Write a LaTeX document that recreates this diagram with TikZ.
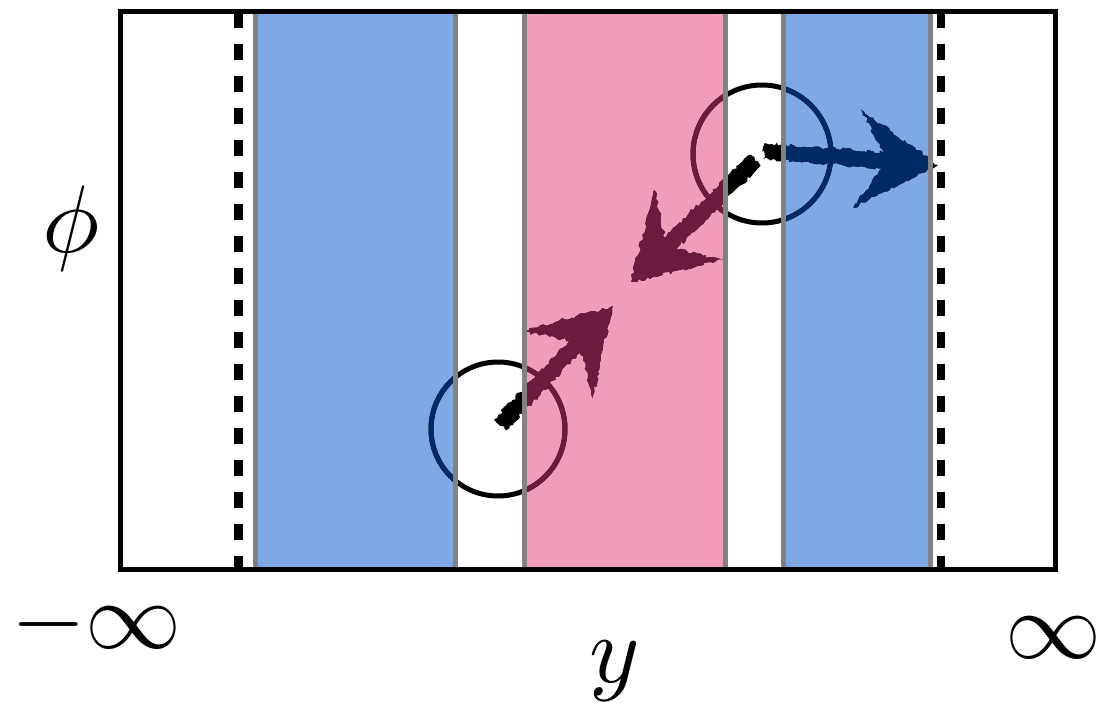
\documentclass[tikz,border=0pt]{standalone}
\usetikzlibrary{calc,decorations.pathmorphing}
\definecolor{stripblue}{RGB}{127,169,230}
\definecolor{strippink}{RGB}{242,156,188}
\definecolor{edgegray}{RGB}{130,130,130}
\definecolor{inknavy}{RGB}{0,42,102}
\definecolor{inkmaroon}{RGB}{108,27,62}
\newcommand\defbrusharrow[3]{% name, tail, tip
  \coordinate (#1-t) at (#2);
  \coordinate (#1-p) at (#3);
  \coordinate (#1-N) at ($(#3)!55pt!(#2)$);
  \coordinate (#1-H) at ($(#3)!81pt!(#2)$);
  \coordinate (#1-a) at ($(#2)!8pt!90:(#3)$);
  \coordinate (#1-b) at ($(#1-N)!8pt!90:(#3)$);
  \coordinate (#1-c) at ($(#1-H)!49pt!90:(#3)$);
  \coordinate (#1-d) at ($(#1-H)!49pt!-90:(#3)$);
  \coordinate (#1-e) at ($(#1-N)!8pt!-90:(#3)$);
  \coordinate (#1-f) at ($(#2)!8pt!-90:(#3)$);
}
\newcommand\brushfill[2]{% name, colour
  \fill[#2, brush] (#1-a) -- (#1-b) -- (#1-c) -- (#1-p) -- (#1-d) -- (#1-e) -- (#1-f) -- cycle;
}
\newcommand\inkpass[1]{%
  \pgfmathsetseed{42}%
  \draw[ring, #1] (c1) circle[radius=67pt];
  \draw[ring, #1] (c2) circle[radius=69pt];
  \brushfill{A}{#1}
  \brushfill{B}{#1}
  \brushfill{C}{#1}
}
\begin{document}
\begin{tikzpicture}[x=1pt,y=-1pt,
  ring/.style={line width=5pt},
  brush/.style={decorate, decoration={random steps, segment length=3pt, amplitude=1.8pt}},
  edge/.style={edgegray, line width=5pt},
  bound/.style={line width=8.5pt, dash pattern=on 16pt off 16pt},
  lbl/.style={inner sep=0pt, scale=9.6}]
\useasboundingbox (0,0) rectangle (1101,704);
% strips
\fill[stripblue] (255.5,11.5) rectangle (455.5,569);
\fill[stripblue] (783.5,11.5) rectangle (930.5,569);
\fill[strippink] (524.5,11.5) rectangle (725,569);
% circles and arrows
\coordinate (c1) at (498,429);
\coordinate (c2) at (762,154);
\defbrusharrow{A}{500,425}{613,306}
\defbrusharrow{B}{755,160}{631,282}
\defbrusharrow{C}{764,151}{938,165}
\inkpass{black}
\begin{scope}
  \clip (255.5,11.5) rectangle (455.5,569) (783.5,11.5) rectangle (930.5,569);
  \inkpass{inknavy}
\end{scope}
\begin{scope}
  \clip (524.5,11.5) rectangle (725,569);
  \inkpass{inkmaroon}
\end{scope}
% strip edges
\foreach \x in {255.5,455.5,524.5,725,783.5,930.5}
  \draw[edge] (\x,11.5) -- (\x,569);
% boundaries
\draw[bound] (238.5,11.5) -- (238.5,569);
\draw[bound] (941,11.5) -- (941,569);
\draw[line width=5pt] (120,11.5) rectangle (1055.5,569);
% labels
\node[lbl] (phi) at (71,228) {$\phi$};
\node[lbl] (ylab) at (615,671) {$y$};
\node[lbl] (minf) at (96.5,624) {$-\infty$};
\node[lbl] (pinf) at (1053,638) {\hbox to 0.9em{\hss$\infty$\hss}};
\end{tikzpicture}
\end{document}
